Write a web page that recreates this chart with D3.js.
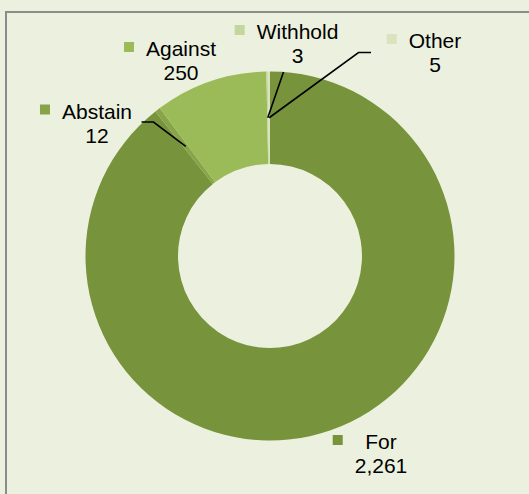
<!DOCTYPE html>
<html>
<head>
<meta charset="utf-8">
<script src="https://cdn.jsdelivr.net/npm/d3@7"></script>
<style>
  html, body { margin: 0; padding: 0; background: #ebf1de; }
  svg { display: block; font-family: "Liberation Sans", Arial, sans-serif; }
</style>
</head>
<body>
<svg id="chart" width="529" height="494"></svg>
<script>
// vote counts, in pie order (clockwise from 12 o'clock)
const categories = ["For", "Abstain", "Against", "Withhold", "Other"];
const values = [2261, 12, 250, 3, 5];
const colors = ["#77933c", "#87a548", "#9bbb59", "#c3d69b", "#d7e4bd"];

// where each data label sits (text centre, first baseline) and its leader elbow
const labelLayout = {
  "For":      { x: 381, y: 449, leader: null },
  "Abstain":  { x: 97,  y: 118.5, leader: [[141.5, 122], [153.5, 122]] },
  "Against":  { x: 181, y: 56, leader: null },
  "Withhold": { x: 297.5, y: 39, leader: [[283.5, 72]] },
  "Other":    { x: 435, y: 48, leader: [[371, 52.5], [358.5, 52.5]] }
};

const svg = d3.select("#chart");
const fmt = d3.format(",");

// outer frame (runs off the right and bottom edges)
svg.append("rect")
  .attr("x", 6).attr("y", 12)
  .attr("width", 600).attr("height", 600)
  .attr("fill", "#ebf1de")
  .attr("stroke", "#8c8c8c")
  .attr("stroke-width", 2);

const cx = 270, cy = 256;
const outerR = 184.5, innerR = 92;

const data = categories.map((c, i) => ({ name: c, value: values[i], color: colors[i] }));

const pie = d3.pie().sort(null).value(d => d.value);
const arc = d3.arc().innerRadius(innerR).outerRadius(outerR);
const arcs = pie(data);

const g = svg.append("g").attr("transform", `translate(${cx},${cy})`);

g.selectAll("path.slice")
  .data(arcs)
  .enter()
  .append("path")
  .attr("class", "slice")
  .attr("d", arc)
  .attr("fill", d => d.data.color);

// leader lines from the label elbow to the slice centroid
arcs.forEach(a => {
  const lay = labelLayout[a.data.name];
  if (!lay.leader) return;
  const c = arc.centroid(a);
  const pts = lay.leader.concat([[c[0] + cx, c[1] + cy]]);
  svg.append("path")
    .attr("d", d3.line()(pts))
    .attr("fill", "none")
    .attr("stroke", "#000")
    .attr("stroke-width", 1.6);
});

// data labels: name + value, with a legend key square
const lineGap = 24;
arcs.forEach(a => {
  const lay = labelLayout[a.data.name];
  const lab = svg.append("g");
  const t1 = lab.append("text")
    .attr("x", lay.x).attr("y", lay.y)
    .attr("text-anchor", "middle")
    .attr("font-size", 21)
    .attr("fill", "#000")
    .text(a.data.name);
  const t2 = lab.append("text")
    .attr("x", lay.x).attr("y", lay.y + lineGap)
    .attr("text-anchor", "middle")
    .attr("font-size", 21)
    .attr("fill", "#000")
    .text(fmt(a.data.value));
  const w = Math.max(t1.node().getComputedTextLength(), t2.node().getComputedTextLength());
  lab.append("rect")
    .attr("x", lay.x - w / 2 - 12 - 10)
    .attr("y", lay.y - 14)
    .attr("width", 10).attr("height", 10)
    .attr("fill", a.data.color);
});
</script>
</body>
</html>
